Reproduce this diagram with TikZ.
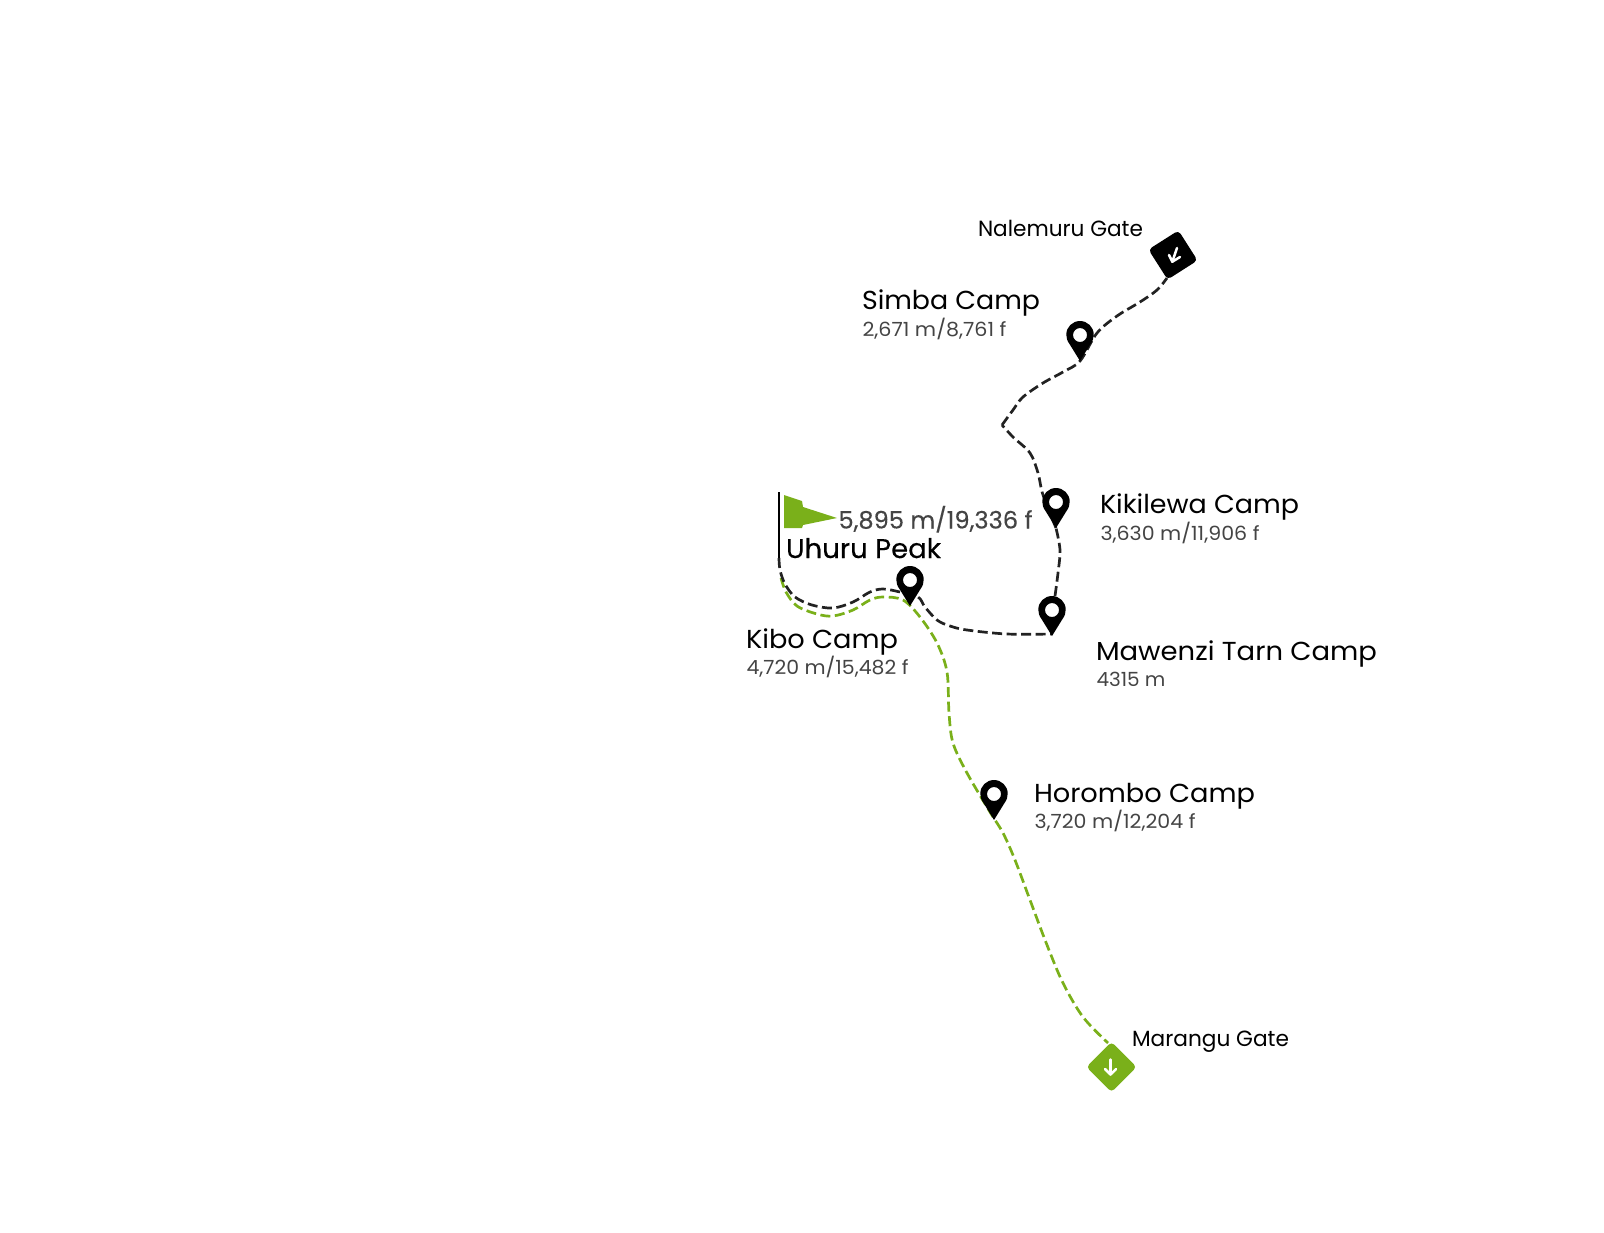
\documentclass[tikz,border=0pt]{standalone}
\usepackage{fontspec}
\usepackage{graphicx}
\setmainfont{Poppins}
\newfontfamily\boldish[FakeBold=0.25]{Poppins}
\newcommand\fitw[2]{\resizebox{#1pt}{\height}{#2}}
\definecolor{trailgreen}{HTML}{7AB01A}
\definecolor{trailblack}{HTML}{222222}
\definecolor{subgrey}{HTML}{444444}
\tikzset{
  x=1pt,y=-1pt,
  trail/.style={line width=2.7pt,dash pattern=on 10pt off 4.5pt,smooth,tension=0.55},
  blacktrail/.style={trail,draw=trailblack},
  greentrail/.style={trail,draw=trailgreen},
  lab/.style={anchor=base west,inner sep=0pt,outer sep=0pt},
  title/.style={lab,font=\fontsize{26}{30}\selectfont,text=black},
  gatelab/.style={lab,font=\fontsize{22}{26}\selectfont,text=black},
  sublab/.style={lab,font=\fontsize{19.5}{24}\selectfont,text=subgrey},
  gate/.style={rectangle,rounded corners=4pt,minimum size=35.6pt,inner sep=0pt},
  gatearrow/.style={draw=white,line width=2.5pt,line cap=round,line join=round},
}
\newcommand\mappin[2]{%
  \coordinate (#1) at #2;
  \fill[black,even odd rule,shift={#2}]
    (0,0) -- (-10.5,-17) .. controls (-12.8,-20) and (-13.7,-23) .. (-13.7,-26.5)
    .. controls (-13.7,-34) and (-7.5,-40) .. (0,-40)
    .. controls (7.5,-40) and (13.7,-34) .. (13.7,-26.5)
    .. controls (13.7,-23) and (12.8,-20) .. (10.5,-17) -- cycle
    (0,-26) circle[radius=7pt];
}
\begin{document}
\begin{tikzpicture}
\useasboundingbox (0,0) rectangle (1604,1232);
% anchors
\coordinate (pole) at (779,558);
\node[gate,fill=black,rotate=32.5] (nalemuru) at (1173,255) {};
\node[gate,fill=trailgreen,rotate=45] (marangu) at (1111.5,1067) {};
\coordinate (simbatip) at (1080,361);
\coordinate (kikitip) at (1056,528);
\coordinate (mawetip) at (1052,634);
\coordinate (kibotip) at (903,600);
\coordinate (horotip) at (990,812);
% connectors
\draw[greentrail] plot coordinates {(781,578) (786,592) (797,606) (817,614) (833,616) (853,610) (870,600) (883,597) (kibotip) (920,617) (937,643) (947,672) (949,713) (953,743) (967,773) (horotip) (1003,833) (1015,860) (1030,900) (1047,945) (1063,983) (1083,1017) (1108,1043)};
\draw[blacktrail] plot coordinates {(pole) (780,570) (785,584) (795,597) (812,605) (833,608) (853,602) (870,592) (883,589) (900,592) (918,597) (925,607) (937,620) (950,626) (967,630) (1007,634) (mawetip)};
\draw[blacktrail] plot coordinates {(1055,596) (1058,573) (1060,550) (kikitip)};
\draw[blacktrail] plot coordinates {(kikitip) (1043,495) (1038,473) (1030,453) (1013,437) (1002,425)};
\draw[blacktrail] plot coordinates {(1002,425) (1013,410) (1023,397) (1043,383) (1063,372) (simbatip) (1097,333) (1117,316) (1140,302) (1157,290) (1167,278)};
% flag
\draw[black,line width=2.8pt] (779,492) -- (pole);
\fill[trailgreen] (784,495) -- (802,501) -- (803,507) -- (837,518) -- (803,525) -- (802,528) -- (784,528) -- cycle;
% pins
\mappin{simba}{(1080,361)}
\mappin{kiki}{(1056,528)}
\mappin{mawe}{(1052,636)}
\mappin{kibo}{(910,606)}
\mappin{horo}{(994,820)}
% gate arrows
\draw[gatearrow] (1177,248) -- (1172.3,261.7);
\draw[gatearrow] (1169,255) -- (1172.3,261.7) -- (1180,257);
\draw[gatearrow] (1110.5,1059.5) -- (1110.5,1074.5);
\draw[gatearrow] (1105,1069) -- (1110.5,1074.5) -- (1116,1069);
% labels
\node[gatelab] (tnale) at (978,236) {\fitw{165}{Nalemuru Gate}};
\node[gatelab] (tmara) at (1132,1046) {\fitw{157}{Marangu Gate}};
\node[title] (tsimba) at (862,309.5) {\fitw{178}{Simba Camp}};
\node[sublab] (ssimba) at (862.5,336) {\fitw{144}{2,671 m/8,761 f}};
\node[title] (tkiki) at (1100,513.5) {\fitw{199}{Kikilewa Camp}};
\node[sublab] (skiki) at (1100.5,540) {\fitw{159}{3,630 m/11,906 f}};
\node[title] (tmawe) at (1096,660) {\fitw{281}{Mawenzi Tarn Camp}};
\node[sublab] (smawe) at (1096.5,686) {\fitw{69}{4315 m}};
\node[title] (tkibo) at (746,648) {\fitw{152}{Kibo Camp}};
\node[sublab] (skibo) at (746.5,674) {\fitw{162}{4,720 m/15,482 f}};
\node[title] (thoro) at (1034,802) {\fitw{221}{Horombo Camp}};
\node[sublab] (shoro) at (1034.5,828.5) {\fitw{161}{3,720 m/12,204 f}};
\node[lab,font=\boldish\fontsize{27}{30}\selectfont,text=black] (tuhuru) at (786,558) {\fitw{155}{Uhuru Peak}};
\node[lab,font=\boldish\fontsize{24}{28}\selectfont,text=subgrey] (suhuru) at (838.5,528.5) {\fitw{194}{5,895 m/19,336 f}};
\end{tikzpicture}
\end{document}
